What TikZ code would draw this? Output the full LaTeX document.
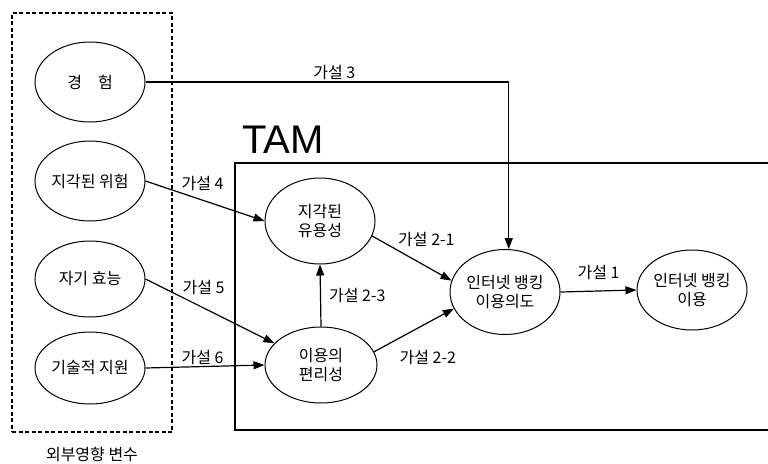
\documentclass[tikz,border=0pt]{standalone}
\usepackage{fontspec}
\setmainfont{Noto Sans CJK KR}
\newfontfamily\tamfont{Liberation Sans}
\usepackage{tikz}
\usetikzlibrary{arrows.meta,positioning,shapes.geometric,calc}

\begin{document}
\begin{tikzpicture}[x=1pt, y=-1pt,
  var/.style={ellipse, draw, line width=1pt, inner sep=0pt, align=center,
              font=\fontsize{16}{19}\selectfont,
              minimum width=110pt, minimum height=76pt},
  hyp/.style={-{Triangle[length=11pt,width=8pt]}, line width=1.2pt},
  lbl/.style={font=\fontsize{16}{18}\selectfont, inner sep=1pt},
  extbox/.style={rectangle, draw, line width=1.2pt,
                 dash pattern=on 4pt off 2.5pt,
                 minimum width=160pt, minimum height=419pt}
]
  \useasboundingbox (0,0) rectangle (768,463);

  % external variables
  \node[var, minimum height=80pt] (exp) at (90,82) {경\quad 험};
  \node[var, minimum height=80pt] (risk) at (90,181) {지각된 위험};
  \node[var] (eff) at (90,279) {자기 효능};
  \node[var, minimum height=72pt] (supp) at (90,368) {기술적 지원};

  \node[extbox] (ext) at (92,222.5) {};
  \node[lbl, below=13pt of ext] (extlbl) {외부영향 변수};

  % TAM
  \coordinate (tamtr) at (768,163);
  \coordinate (tamtl) at (235,163);
  \coordinate (tambl) at (235,430);
  \coordinate (tambr) at (768,430);
  \draw[line width=1.4pt] (tamtr) -- (tamtl) -- (tambl) -- (tambr);
  \node[font=\tamfont\fontsize{40}{40}\selectfont, inner sep=0pt] (tam) at (283,140) {TAM};

  \node[var, minimum width=110pt, minimum height=86pt] (pu) at (320,221) {지각된\\유용성};
  \node[var, minimum width=112pt, minimum height=76pt] (peou) at (321,365) {이용의\\편리성};
  \node[var, minimum width=110pt, minimum height=85pt] (bi) at (505,292) {인터넷 뱅킹\\이용의도};
  \node[var, minimum width=110pt, minimum height=80pt] (use) at (692,290) {인터넷 뱅킹\\이용};

  % hypotheses
  \draw[hyp] (exp.east) -| node[lbl, pos=0.26, above=1pt] (h3) {가설 3} (bi.85);
  \draw[hyp] (risk.east) -- node[lbl, pos=0.48, above=8pt] (h4) {가설 4} (pu.west);
  \draw[hyp] (eff.east) -- node[lbl, pos=0.45, above=12pt] (h5) {가설 5} (peou.155);
  \draw[hyp] (supp.east) -- node[lbl, pos=0.48, above=0pt] (h6) {가설 6} (peou.west);
  \draw[hyp] (peou.north) -- node[lbl, right=7pt] (h23) {가설 2-3} (pu.south);
  \draw[hyp] (pu.-16) -- node[lbl, pos=0.3, above right=1pt] (h21) {가설 2-1} (bi.168);
  \draw[hyp] (peou.14) -- node[lbl, pos=0.25, anchor=north west, xshift=4pt, yshift=-8pt] (h22) {가설 2-2} (bi.198);
  \draw[hyp] (bi.east) -- node[lbl, above=10pt] (h1) {가설 1} (use.west);
\end{tikzpicture}
\end{document}
